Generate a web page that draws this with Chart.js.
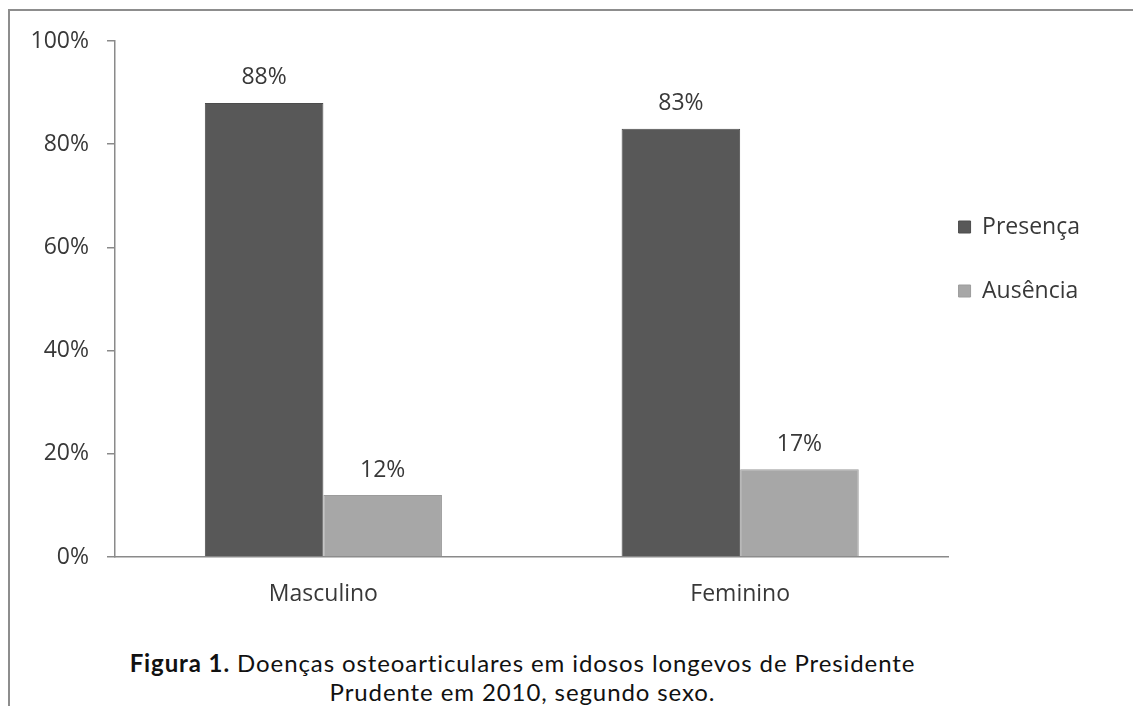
<!DOCTYPE html>
<html lang="pt">
<head>
<meta charset="utf-8">
<title>Doenças osteoarticulares</title>
<script src="https://cdn.jsdelivr.net/npm/chart.js@4/dist/chart.umd.min.js"></script>
<style>
  html, body { margin: 0; padding: 0; background: #fff; }
  body { width: 1133px; height: 706px; position: relative; overflow: hidden; }
  .frame {
    position: absolute; left: 8px; top: 9px; width: 1125px; height: 697px;
    border-left: 2px solid #8d8d8d; border-top: 2px solid #8d8d8d;
  }
  #wrap { position: absolute; left: 0; top: 0; width: 1133px; height: 625px; }
  .caption {
    position: absolute; left: 0; top: 648px; width: 1045px;
    text-align: center; font-family: Lato, sans-serif; font-size: 24px;
    letter-spacing: 0.9px; line-height: 29px; color: #111;
  }
</style>
</head>
<body>
<div class="frame"></div>
<div id="wrap"><canvas id="chart" width="1133" height="625"></canvas></div>
<div class="caption"><b>Figura 1.</b> Doenças osteoarticulares em idosos longevos de Presidente<br>Prudente em 2010, segundo sexo.</div>
<script>
const categories = ["Masculino", "Feminino"];
const presenca = [88, 83];
const ausencia = [12, 17];
const yTicks = [0, 20, 40, 60, 80, 100];

const FONT = "'Open Sans', sans-serif";
const TEXT = "#383838";

// value labels above each bar
const barValues = {
  id: "barValues",
  afterDatasetsDraw(chart) {
    const ctx = chart.ctx;
    ctx.save();
    ctx.font = "23px " + FONT;
    ctx.fillStyle = TEXT;
    ctx.textAlign = "center";
    ctx.textBaseline = "middle";
    chart.data.datasets.forEach((ds, i) => {
      chart.getDatasetMeta(i).data.forEach((bar, j) => {
        ctx.fillText(ds.data[j] + "%", bar.x, bar.y - 25);
      });
    });
    ctx.restore();
  }
};

// legend sits just right of the plot, a bit above centre
const legendPlace = {
  id: "legendPlace",
  afterLayout(chart) {
    const lg = chart.legend;
    const pad = lg.options.labels.padding;
    const w = lg.width, h = lg.height;
    lg.left = chart.chartArea.right + 10 - pad;
    lg.right = lg.left + w;
    lg.top = chart.chartArea.top + 133.5;
    lg.bottom = lg.top + h;
  }
};

new Chart(document.getElementById("chart"), {
  type: "bar",
  data: {
    labels: categories,
    datasets: [
      {
        label: "Presença",
        data: presenca,
        backgroundColor: "#585858",
        borderColor: "#4c4c4c",
        borderWidth: 1
      },
      {
        label: "Ausência",
        data: ausencia,
        backgroundColor: "#a7a7a7",
        borderColor: "#9c9c9c",
        borderWidth: 1
      }
    ]
  },
  options: {
    responsive: false,
    animation: false,
    layout: { padding: { top: 41, left: 0, right: 12, bottom: 0 } },
    datasets: {
      bar: { categoryPercentage: 0.569, barPercentage: 1 }
    },
    scales: {
      x: {
        grid: { display: false, drawTicks: false },
        border: { display: true, color: "#8a8a8a", width: 1.5 },
        ticks: { color: TEXT, font: { family: FONT, size: 23 }, padding: 24 },
        afterFit(scale) { scale.height = 68; }
      },
      y: {
        min: 0,
        max: 100,
        afterBuildTicks(scale) { scale.ticks = yTicks.map(v => ({ value: v })); },
        grid: { drawOnChartArea: false, drawTicks: true, tickLength: 8, color: "#8a8a8a", lineWidth: 1.5 },
        border: { display: true, color: "#8a8a8a", width: 1.5 },
        ticks: {
          color: TEXT,
          font: { family: FONT, size: 23 },
          padding: 18,
          callback: v => v + "%"
        },
        afterFit(scale) { scale.width = 115; }
      }
    },
    plugins: {
      legend: {
        position: "right",
        align: "start",
        maxWidth: 185,
        labels: {
          boxWidth: 12,
          boxHeight: 12,
          padding: 41,
          color: TEXT,
          font: { family: FONT, size: 23 }
        }
      },
      tooltip: { enabled: false }
    }
  },
  plugins: [barValues, legendPlace]
});
</script>
</body>
</html>
